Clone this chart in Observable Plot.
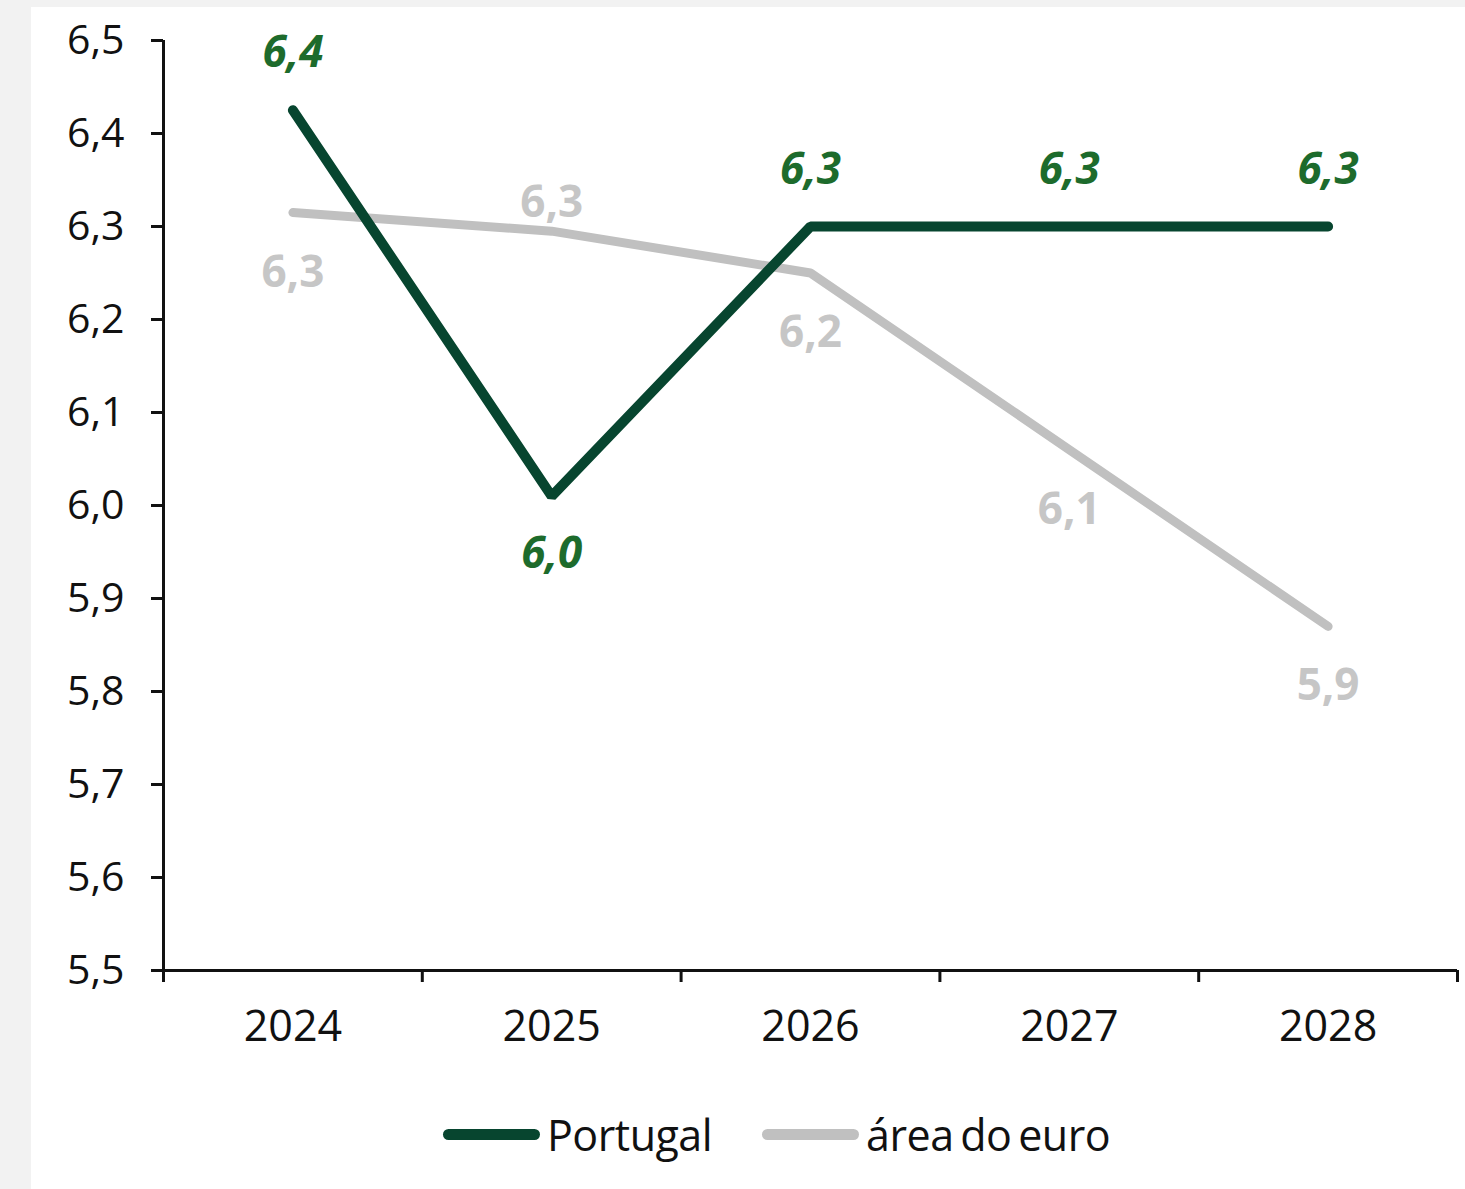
<!DOCTYPE html>
<html>
<head>
<meta charset="utf-8">
<script src="https://cdn.jsdelivr.net/npm/d3@7"></script>
<script src="https://cdn.jsdelivr.net/npm/@observablehq/plot@0.6"></script>
<style>
  html, body { margin: 0; padding: 0; }
  body { width: 1465px; height: 1189px; background: #f2f2f2; position: relative; overflow: hidden; font-family: "Open Sans", "Noto Sans", sans-serif; }
  #panel { position: absolute; left: 31px; top: 7px; right: 0; bottom: 0; background: #ffffff; }
  #chart { position: absolute; left: 0; top: 0; }
  #legend { position: absolute; left: 443px; top: 1105px; display: flex; align-items: center; font-size: 43px; color: #111; letter-spacing: -0.5px; word-spacing: -4px; }
  .sw { width: 97px; height: 11px; border-radius: 6px; margin-right: 7px; }
  .item { display: flex; align-items: center; }
</style>
</head>
<body>
<div id="panel"></div>
<div id="chart"></div>
<div id="legend"></div>
<script>
const years = ["2024", "2025", "2026", "2027", "2028"];
const portugal = [6.425, 6.01, 6.30, 6.30, 6.30];
const euroArea = [6.315, 6.295, 6.25, 6.06, 5.87];
const portugalLabels = ["6,4", "6,0", "6,3", "6,3", "6,3"];
const euroLabels = ["6,3", "6,3", "6,2", "6,1", "5,9"];
const portugalLabelSide = ["above", "below", "above", "above", "above"];
const euroLabelSide = ["below", "above", "below", "below", "below"];
const yTicks = [5.5, 5.6, 5.7, 5.8, 5.9, 6.0, 6.1, 6.2, 6.3, 6.4, 6.5];
const seriesNames = ["Portugal", "área do euro"];

const colPT = "#07452f", colPTLabel = "#1d6b2c";
const colEA = "#c0c0c0", colEALabel = "#c6c6c6";

const ptData = years.map((y, i) => ({i, year: y, v: portugal[i], label: portugalLabels[i], side: portugalLabelSide[i]}));
const eaData = years.map((y, i) => ({i, year: y, v: euroArea[i], label: euroLabels[i], side: euroLabelSide[i]}));
const boundaries = d3.range(-0.5, years.length, 1);
const fmt = d => d.toFixed(1).replace(".", ",");

const font = "'Open Sans', 'Noto Sans', sans-serif";

const chart = Plot.plot({
  width: 1465,
  height: 1070,
  marginLeft: 163,
  marginRight: 8,
  marginTop: 40,
  marginBottom: 100,
  style: {background: "transparent", fontFamily: font, color: "#111"},
  x: {type: "linear", domain: [-0.5, years.length - 0.5]},
  y: {domain: [5.5, 6.5]},
  marks: [
    Plot.axisY({ticks: yTicks, tickFormat: fmt, tickSize: 12, tickPadding: 27, strokeWidth: 3, fontSize: 41, stroke: "#111", fill: "#111", label: null}),
    Plot.axisX({ticks: boundaries, tickFormat: () => "", tickSize: 12, strokeWidth: 3, stroke: "#111", label: null}),
    Plot.axisX({ticks: d3.range(years.length), tickFormat: i => years[i], tickSize: 0, tickPadding: 40, fontSize: 43, fill: "#111", label: null}),
    Plot.ruleX([-0.5], {stroke: "#111", strokeWidth: 3, y1: 5.5, y2: 6.5}),
    Plot.ruleY([5.5], {stroke: "#111", strokeWidth: 3, x1: -0.5, x2: years.length - 0.5}),
    Plot.line(eaData, {x: "i", y: "v", stroke: colEA, strokeWidth: 9, strokeLinecap: "round", strokeLinejoin: "miter"}),
    Plot.line(ptData, {x: "i", y: "v", stroke: colPT, strokeWidth: 10, strokeLinecap: "round", strokeLinejoin: "miter"}),
    Plot.text(eaData.filter(d => d.side === "above"), {x: "i", y: "v", text: "label", dy: -28, fill: colEALabel, fontSize: 44, fontWeight: "bold", fontFamily: font}),
    Plot.text(eaData.filter(d => d.side === "below"), {x: "i", y: "v", text: "label", dy: 60, fill: colEALabel, fontSize: 44, fontWeight: "bold", fontFamily: font}),
    Plot.text(ptData.filter(d => d.side === "above"), {x: "i", y: "v", text: "label", dy: -57, fill: colPTLabel, fontSize: 44, fontWeight: "bold", fontStyle: "italic", fontFamily: font}),
    Plot.text(ptData.filter(d => d.side === "below"), {x: "i", y: "v", text: "label", dy: 58, fill: colPTLabel, fontSize: 44, fontWeight: "bold", fontStyle: "italic", fontFamily: font})
  ]
});
document.getElementById("chart").appendChild(chart);

const legend = document.getElementById("legend");
[[seriesNames[0], colPT], [seriesNames[1], colEA]].forEach(([name, c], k) => {
  const item = document.createElement("div");
  item.className = "item";
  if (k > 0) item.style.marginLeft = "50px";
  const sw = document.createElement("div");
  sw.className = "sw";
  sw.style.background = c;
  const t = document.createElement("span");
  t.textContent = name;
  item.appendChild(sw);
  item.appendChild(t);
  legend.appendChild(item);
});
</script>
</body>
</html>
